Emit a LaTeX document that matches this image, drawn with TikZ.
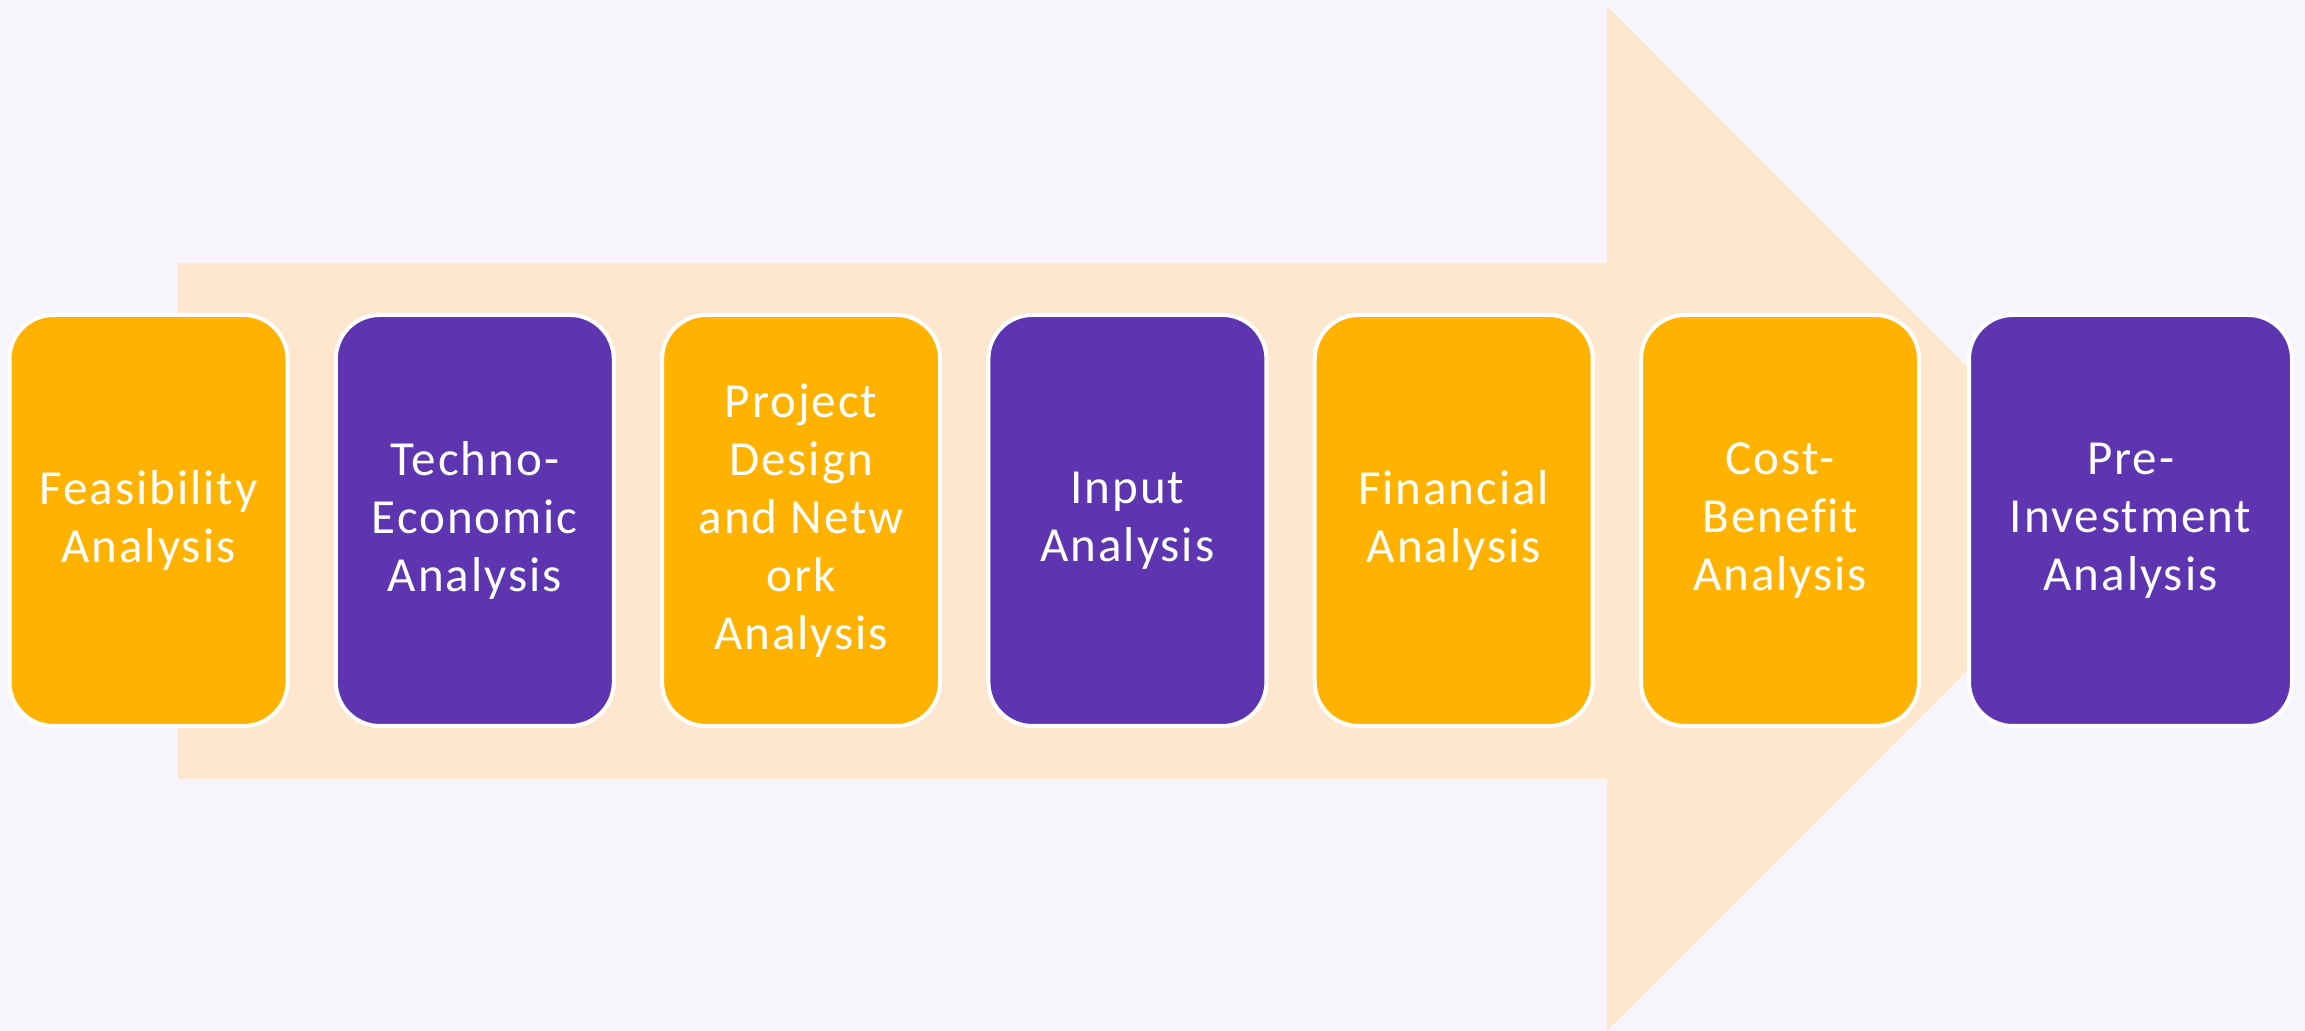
\documentclass[tikz,border=0pt]{standalone}
\usepackage{fontspec}
\setmainfont{Carlito}[LetterSpace=4, Ligatures=NoCommon]
\usepackage{tikz}
\definecolor{bgcol}{HTML}{F7F5FB}
\definecolor{peach}{HTML}{FFE6CF}
\definecolor{amber}{HTML}{FFB300}
\definecolor{violet}{HTML}{5E35B1}

\begin{document}
\begin{tikzpicture}[x=0.5pt, y=0.5pt,
		stage/.style={rectangle, rounded corners=22pt, draw=white, line width=2pt,
			minimum width=139pt, minimum height=205.5pt, align=center, text=white,
			font=\fontsize{24.5}{29}\selectfont},
		stageA/.style={stage, fill=amber},
		stageB/.style={stage, fill=violet}]
			\fill[bgcol] (0,0) rectangle (2305,1031);
			\useasboundingbox (0,0) rectangle (2305,1031);
			\fill[peach] (178,252) -- (1607,252) -- (1607,0) -- (2119,512.5) -- (1607,1025) -- (1607,768) -- (178,768) -- cycle;
			\node[stageA] (feas) at (148.5,510.5) {Feasibility\\Analysis};
			\node[stageB] (techno) at (474.8,510.5) {Techno-\\Economic\\Analysis};
			\node[stageA] (design) at (801.1,510.5) {Project\\Design\\and Netw\\ork\\Analysis};
			\node[stageB] (input) at (1127.4,510.5) {Input\\Analysis};
			\node[stageA] (fin) at (1453.7,510.5) {Financial\\Analysis};
			\node[stageA] (cost) at (1780,510.5) {Cost-\\Benefit\\Analysis};
			\node[stageB, minimum width=161.5pt] (preinv) at (2130.5,510.5) {Pre-\\Investment\\Analysis};
	\end{tikzpicture}
\end{document}
